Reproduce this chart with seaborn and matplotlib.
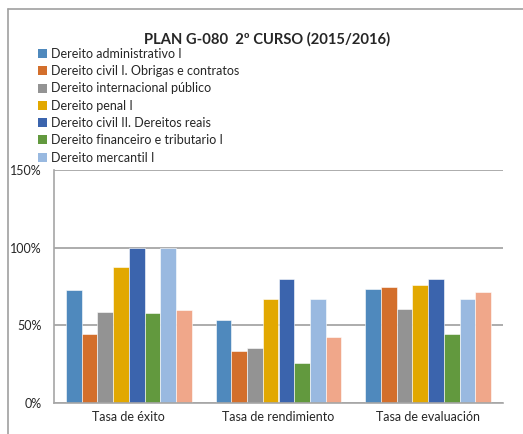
import pandas as pd
import matplotlib.pyplot as plt
import seaborn as sns
from matplotlib.lines import Line2D
from matplotlib.patches import Patch

# categorias e series (valores en %)
tasas = ['Tasa de éxito', 'Tasa de rendimiento', 'Tasa de evaluación']
asignaturas = ['Dereito administrativo I',
               'Dereito civil I. Obrigas e contratos',
               'Dereito internacional público',
               'Dereito penal I',
               'Dereito civil II. Dereitos reais',
               'Dereito financeiro e tributario I',
               'Dereito mercantil I',
               'Outra materia']
exito = [72.5, 44.4, 58.8, 87.6, 100.0, 58.2, 100.0, 59.7]
rendimiento = [53.2, 33.3, 35.6, 66.7, 79.8, 26.0, 66.7, 42.7]
evaluacion = [73.2, 74.9, 60.7, 76.2, 79.8, 44.4, 66.7, 71.2]
colores = ['#4F89BD', '#D36F2C', '#939393', '#E2A800',
           '#3B64AD', '#62993E', '#99B9E0', '#F0A78A']

rows = []
for tasa, vals in zip(tasas, [exito, rendimiento, evaluacion]):
    for a, v in zip(asignaturas, vals):
        rows.append({'tasa': tasa, 'asignatura': a, 'valor': v})
df = pd.DataFrame(rows)

sns.set_style('white')
plt.rcParams['font.family'] = ['Lato', 'DejaVu Sans']

fig = plt.figure(figsize=(5.23, 4.34), dpi=100)
ax = fig.add_axes([54 / 523, 31 / 434, 449 / 523, 233 / 434])

sns.barplot(data=df, x='tasa', y='valor', hue='asignatura', order=tasas,
            hue_order=asignaturas, palette=colores, width=0.84,
            edgecolor='white', linewidth=0.4, saturation=1, legend=False, ax=ax)

ax.set_ylim(0, 150)
ax.set_xlim(-0.5, 2.5)
ax.set_yticks([0, 50, 100, 150])
ax.set_yticklabels(['0%', '50%', '100%', '150%'], fontsize=9)
ax.tick_params(axis='x', labelsize=9, length=0, pad=6)
ax.tick_params(axis='y', length=0, pad=9)
ax.set_xlabel('')
ax.set_ylabel('')
ax.yaxis.grid(True, color='#9E9E9E', linewidth=1.2)
ax.set_axisbelow(True)
for s in ['top', 'right']:
    ax.spines[s].set_visible(False)
for s in ['left', 'bottom']:
    ax.spines[s].set_color('#A6A6A6')
    ax.spines[s].set_linewidth(1.2)

# leyenda (solo 7 entradas visibles)
handles = [Patch(facecolor=c, edgecolor='none') for c in colores[:7]]
fig.legend(handles, asignaturas[:7], loc='upper left', bbox_to_anchor=(38 / 523, 1 - 48 / 434),
           frameon=False, fontsize=9, handlelength=0.75, handleheight=0.75,
           handletextpad=0.3, labelspacing=0.42, borderpad=0, borderaxespad=0)

fig.text(267 / 523, 1 - 39 / 434, 'PLAN G-080  2º CURSO (2015/2016)', ha='center', va='center',
         fontsize=10.6, fontweight='bold')

# marco del grafico
fig.add_artist(Line2D([7.5 / 523, 7.5 / 523], [0, 1 - 8.5 / 434], color='#A0A0A0', linewidth=1.2))
fig.add_artist(Line2D([7.5 / 523, 1], [1 - 8.5 / 434, 1 - 8.5 / 434], color='#A0A0A0', linewidth=1.2))

plt.savefig('out.png', dpi=100)
